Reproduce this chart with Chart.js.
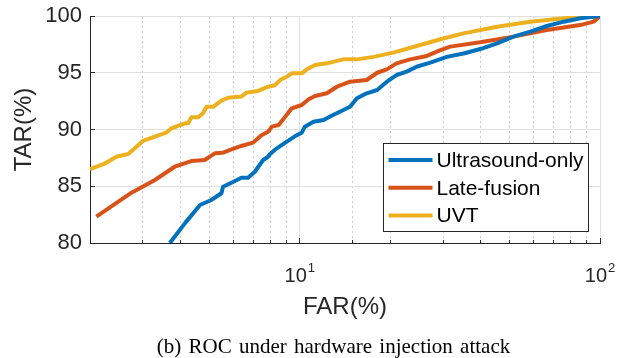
<!DOCTYPE html>
<html>
<head>
<meta charset="utf-8">
<script src="https://cdn.jsdelivr.net/npm/chart.js@4.4.0/dist/chart.umd.min.js"></script>
<style>
  html, body { margin: 0; padding: 0; background: #ffffff; }
  canvas { display: block; }
</style>
</head>
<body>
<canvas id="roc" width="625" height="358"></canvas>
<script>
// ROC curves: false acceptance rate (FAR, %) vs true acceptance rate (TAR, %)
const seriesNames = ['Ultrasound-only', 'Late-fusion', 'UVT'];
const seriesColors = ['#0072BD', '#D95319', '#EDB120'];

const farUltrasound = [3.69, 4.14, 4.65, 5.07, 5.48, 5.55, 5.92, 6.39, 6.72, 7.08, 7.55, 7.84, 7.96, 8.38,
  9.05, 9.77, 10.15, 10.4, 11.1, 12.0, 12.9, 13.6, 14.7, 15.5, 16.7, 18.1, 19.5, 21.0, 22.7, 24.5,
  27.2, 30.9, 35.1, 39.9, 45.4, 51.5, 58.6, 66.5, 75.7, 85.9, 100];
const tarUltrasound = [80.0, 81.73, 83.35, 83.79, 84.38, 84.96, 85.31, 85.75, 85.75, 86.28, 87.31, 87.6, 87.84, 88.34,
  88.93, 89.5, 89.72, 90.25, 90.69, 90.84, 91.28, 91.57, 92.0, 92.75, 93.19, 93.48, 94.21, 94.8, 95.1, 95.53,
  95.89, 96.4, 96.7, 97.09, 97.59, 98.18, 98.62, 99.12, 99.5, 99.8, 100];

const farLateFusion = [2.1, 2.35, 2.75, 3.29, 3.83, 4.35, 4.82, 5.21, 5.55, 5.92, 6.39, 6.98, 7.45, 7.84,
  8.07, 8.5, 8.94, 9.4, 10.15, 10.7, 11.25, 12.3, 13.3, 14.7, 16.7, 18.1, 19.5, 21.0, 23.3, 26.5,
  29.4, 31.7, 39.9, 51.5, 66.5, 85.9, 95.2, 100];
const tarLateFusion = [82.32, 83.2, 84.43, 85.55, 86.72, 87.22, 87.31, 87.9, 87.96, 88.25, 88.55, 88.84, 89.5, 89.8,
  90.25, 90.4, 91.13, 91.87, 92.16, 92.66, 92.95, 93.19, 93.77, 94.21, 94.36, 95.0, 95.3, 95.83, 96.18, 96.48,
  97.0, 97.3, 97.68, 98.18, 98.77, 99.2, 99.5, 100];

const farUVT = [2.0, 2.24, 2.45, 2.68, 2.82, 3.0, 3.29, 3.59, 3.73, 4.14, 4.25, 4.35, 4.58, 4.76, 4.89,
  5.14, 5.48, 5.77, 6.39, 6.64, 7.26, 7.84, 8.27, 8.59, 9.05, 9.4, 10.15, 10.55, 11.25, 12.3, 13.96,
  15.5, 17.6, 20.5, 24.5, 29.4, 35.1, 45.4, 58.6, 75.7, 100];
const tarUVT = [86.5, 87.0, 87.6, 87.84, 88.34, 88.99, 89.37, 89.72, 90.1, 90.55, 90.55, 91.07, 91.07, 91.43, 92.0,
  92.0, 92.54, 92.8, 92.9, 93.25, 93.4, 93.77, 93.9, 94.36, 94.65, 94.95, 94.95, 95.3, 95.68, 95.83, 96.18,
  96.18, 96.4, 96.77, 97.36, 97.95, 98.47, 99.06, 99.5, 99.8, 100];

const xRange = [2, 100];
const yRange = [80, 100];
const yStep = 5;
const xDecadeTicks = [10, 100];
const xDecadeExponents = ['1', '2'];
const xTitle = 'FAR(%)';
const yTitle = 'TAR(%)';
const captionText = '(b) ROC under hardware injection attack';

const SANS = '"Liberation Sans", Arial, Helvetica, sans-serif';
const SERIF = '"Liberation Serif", "Times New Roman", Times, serif';
const INK = '#262626';

const toPoints = (xs, ys) => xs.map((v, i) => ({ x: v, y: ys[i] }));
const isDecade = v => Math.abs(Math.log10(v) - Math.round(Math.log10(v))) < 1e-9;
const align1 = p => Math.round(p - 0.5) + 0.5;

// Inward tick marks, exponent tick labels on the log axis, boxed legend, caption
const axisDecor = {
  id: 'axisDecor',
  afterDatasetsDraw(chart) {
    const { ctx, chartArea: ca, scales: { x, y } } = chart;
    ctx.save();
    ctx.strokeStyle = INK;
    ctx.lineWidth = 1;
    ctx.setLineDash([]);
    ctx.beginPath();
    x.ticks.forEach(t => {
      const px = align1(x.getPixelForValue(t.value));
      const len = isDecade(t.value) ? 5 : 3;
      ctx.moveTo(px, ca.bottom);
      ctx.lineTo(px, ca.bottom - len);
    });
    y.ticks.forEach(t => {
      const py = align1(y.getPixelForValue(t.value));
      ctx.moveTo(ca.left, py);
      ctx.lineTo(ca.left + 5, py);
    });
    ctx.stroke();

    // 10^n labels
    ctx.fillStyle = INK;
    ctx.textAlign = 'left';
    ctx.textBaseline = 'alphabetic';
    const baseFont = '20px ' + SANS;
    const supFont = '13px ' + SANS;
    xDecadeTicks.forEach((v, i) => {
      const px = x.getPixelForValue(v);
      ctx.font = baseFont;
      const wb = ctx.measureText('10').width;
      ctx.font = supFont;
      const we = ctx.measureText(xDecadeExponents[i]).width;
      const left = px - (wb + we + 1) / 2;
      ctx.font = baseFont;
      ctx.fillText('10', left, ca.bottom + 39);
      ctx.font = supFont;
      ctx.fillText(xDecadeExponents[i], left + wb + 1, ca.bottom + 29);
    });
    ctx.restore();
  },
  afterDraw(chart) {
    const { ctx, chartArea: ca } = chart;
    ctx.save();
    // legend box in the lower-right corner of the plot
    const w = 205, h = 88;
    const bx = Math.round(ca.right - 12 - w) + 0.5;
    const by = Math.round(ca.bottom - 12 - h) + 0.5;
    ctx.fillStyle = '#ffffff';
    ctx.fillRect(bx, by, w, h);
    ctx.strokeStyle = INK;
    ctx.lineWidth = 1;
    ctx.strokeRect(bx, by, w, h);
    ctx.font = '21px ' + SANS;
    ctx.textAlign = 'left';
    ctx.textBaseline = 'middle';
    chart.data.datasets.forEach((ds, i) => {
      const ry = by + 16.5 + i * 27.8;
      ctx.strokeStyle = ds.borderColor;
      ctx.lineWidth = 4;
      ctx.beginPath();
      ctx.moveTo(bx + 5, ry);
      ctx.lineTo(bx + 49, ry);
      ctx.stroke();
      ctx.fillStyle = '#000000';
      ctx.fillText(ds.label, bx + 53, ry + 1);
    });

    // figure caption
    ctx.font = '21px ' + SERIF;
    if ('wordSpacing' in ctx) ctx.wordSpacing = '2px';
    ctx.fillStyle = '#000000';
    ctx.textAlign = 'center';
    ctx.textBaseline = 'alphabetic';
    ctx.fillText(captionText, 333.5, 353);
    ctx.restore();
  }
};

const datasets = [
  toPoints(farUltrasound, tarUltrasound),
  toPoints(farLateFusion, tarLateFusion),
  toPoints(farUVT, tarUVT)
].map((pts, i) => ({
  label: seriesNames[i],
  data: pts,
  borderColor: seriesColors[i],
  backgroundColor: seriesColors[i],
  borderWidth: 4,
  pointRadius: 0,
  tension: 0,
  borderJoinStyle: 'round',
  borderCapStyle: 'butt',
  fill: false
}));

new Chart(document.getElementById('roc'), {
  type: 'line',
  data: { datasets },
  plugins: [axisDecor],
  options: {
    responsive: false,
    animation: false,
    devicePixelRatio: 1,
    layout: { padding: { left: 0, right: 25, top: 16, bottom: 0 } },
    plugins: { legend: { display: false }, title: { display: false }, tooltip: { enabled: false } },
    scales: {
      x: {
        type: 'logarithmic',
        min: xRange[0],
        max: xRange[1],
        afterFit: s => { s.height = 115; s.paddingLeft = 0; s.paddingRight = 0; },
        ticks: { display: false },
        grid: {
          drawTicks: false,
          lineWidth: 1,
          color: c => (c.tick && !isDecade(c.tick.value)) ? '#cccccc' : '#e0e0e0'
        },
        border: {
          display: true,
          color: INK,
          width: 1,
          dash: c => (c.tick && !isDecade(c.tick.value)) ? [2, 3] : []
        },
        title: {
          display: true,
          text: xTitle,
          color: INK,
          font: { family: SANS, size: 24 },
          padding: { top: 0, bottom: 36 }
        }
      },
      y: {
        type: 'linear',
        min: yRange[0],
        max: yRange[1],
        afterFit: s => { s.width = 90; s.paddingTop = 0; s.paddingBottom = 0; },
        ticks: {
          stepSize: yStep,
          color: INK,
          padding: 8,
          font: { family: SANS, size: 22 }
        },
        grid: { drawTicks: false, lineWidth: 1, color: '#e0e0e0' },
        border: { display: true, color: INK, width: 1 },
        title: {
          display: true,
          text: yTitle,
          color: INK,
          font: { family: SANS, size: 24 },
          padding: { top: 10, bottom: 0 }
        }
      }
    }
  }
});
</script>
</body>
</html>
